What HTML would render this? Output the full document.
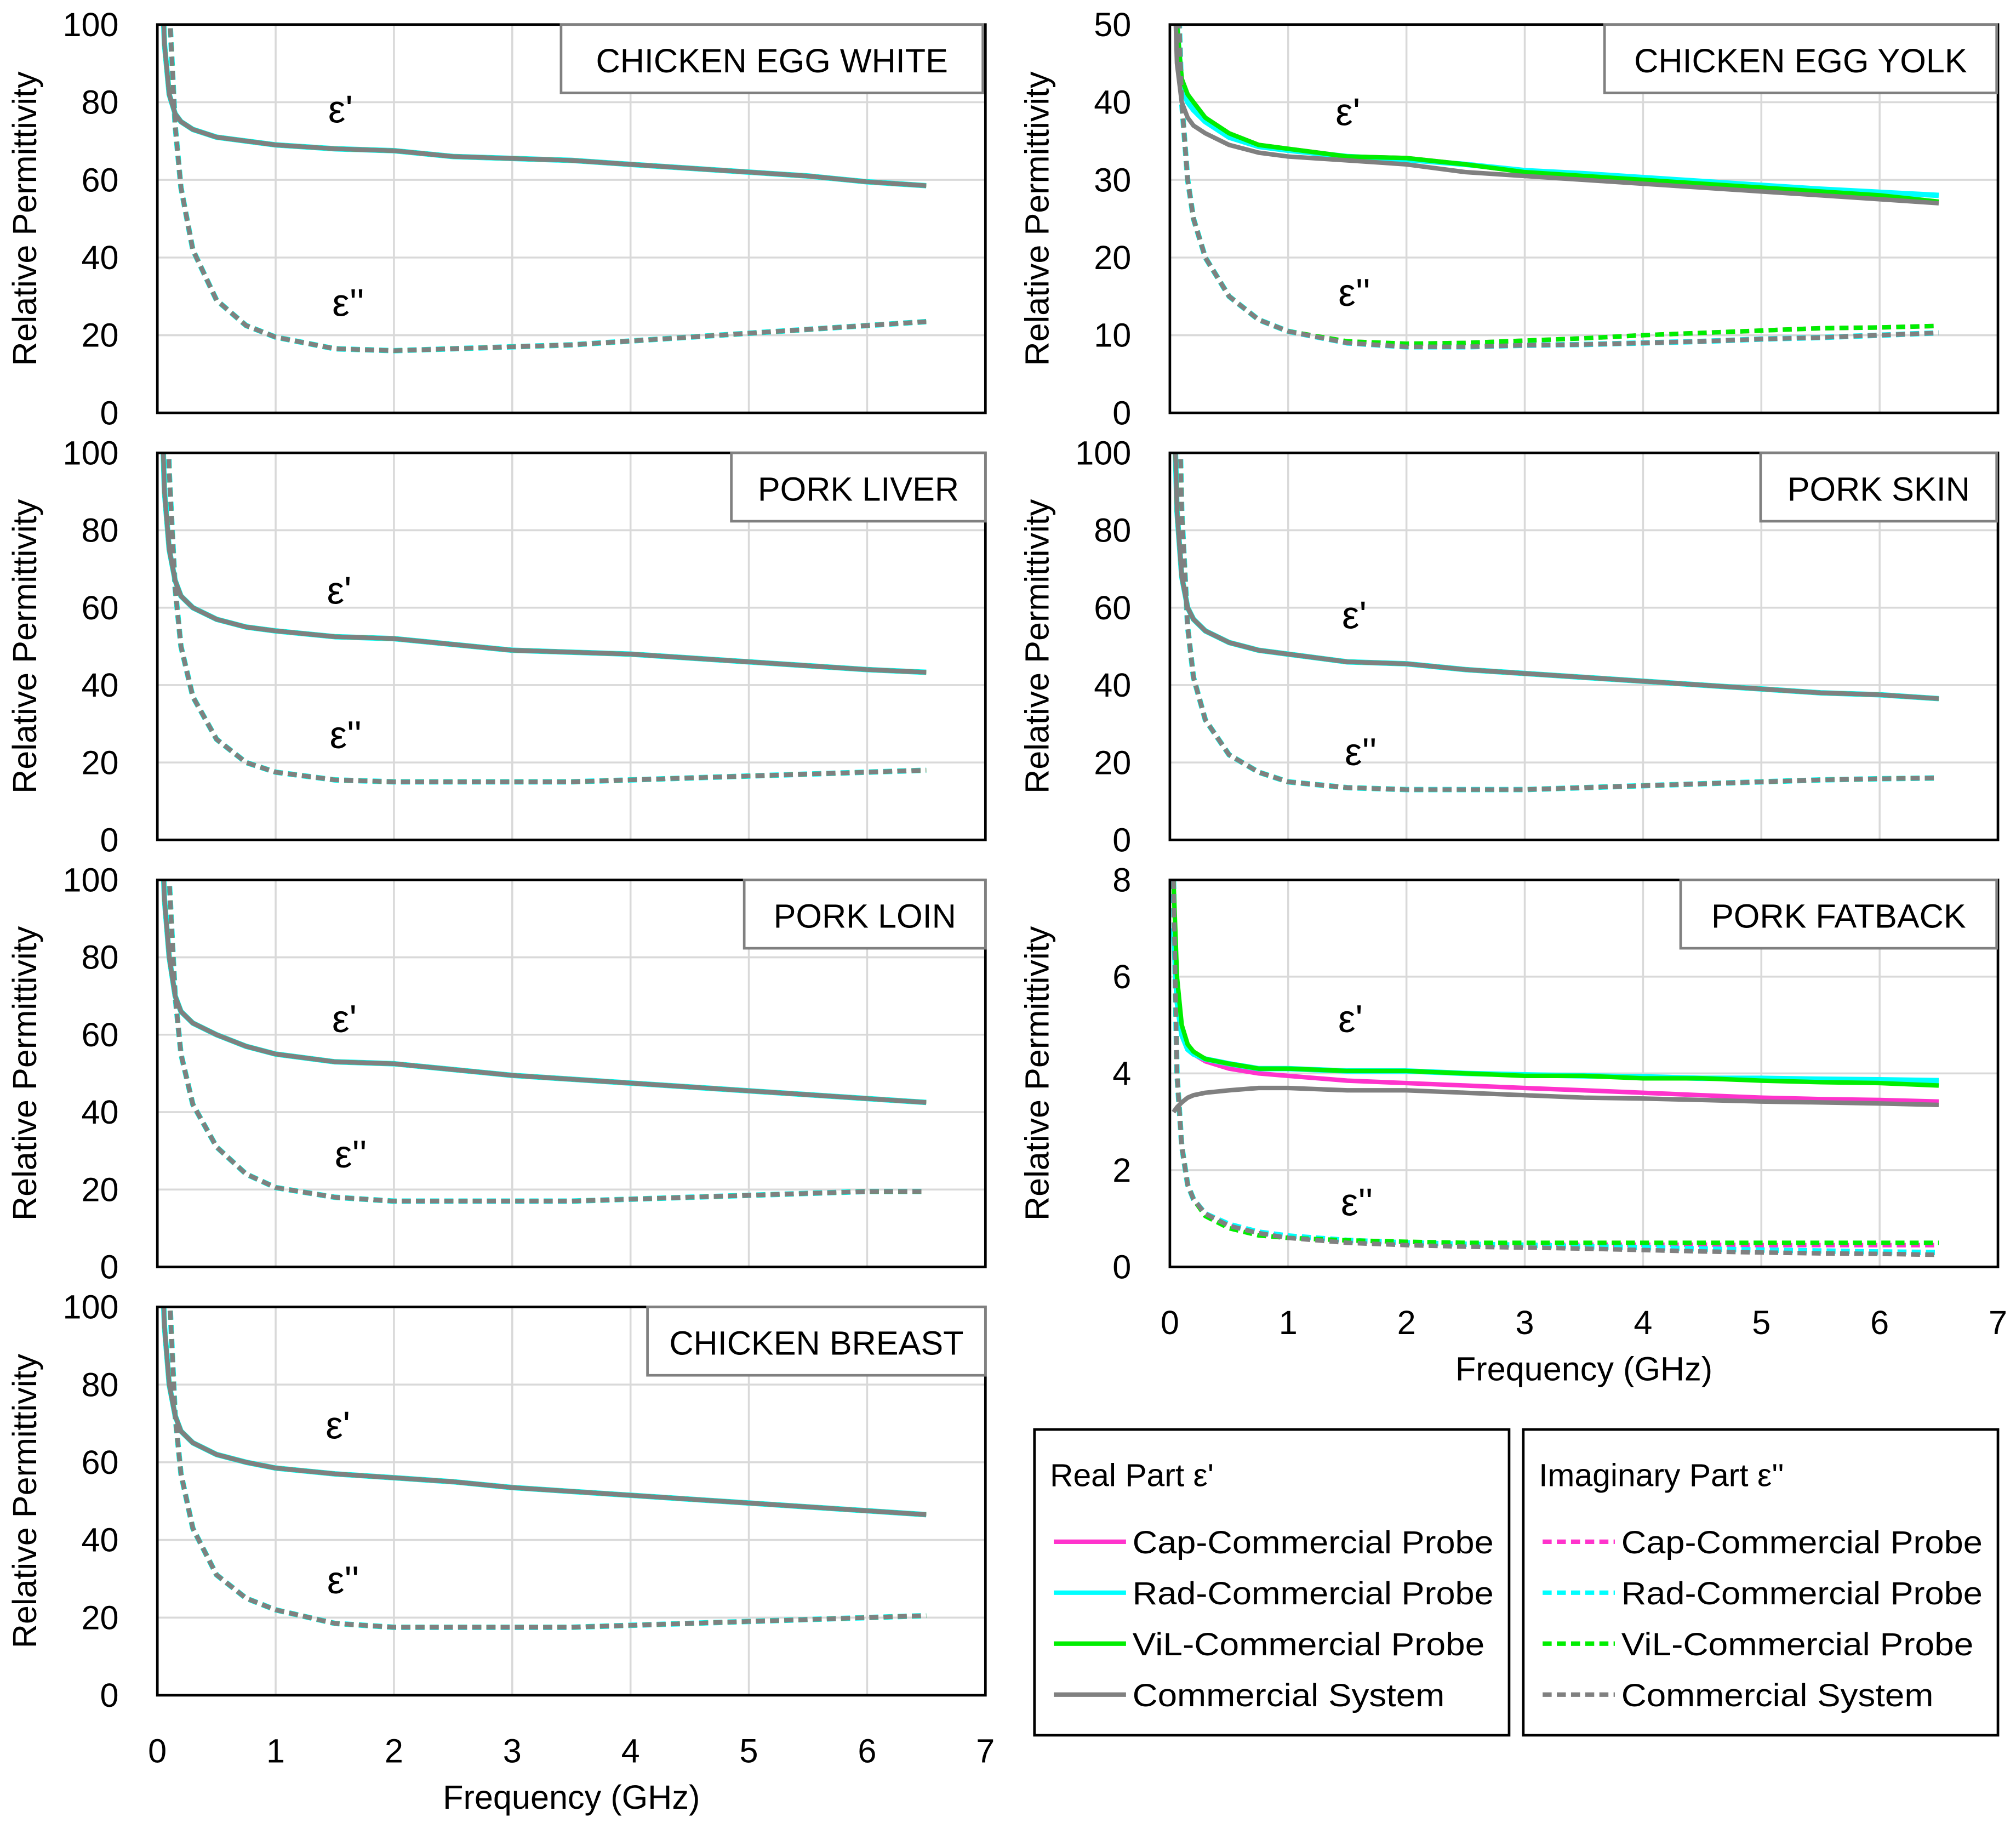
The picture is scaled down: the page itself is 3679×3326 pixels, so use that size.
<!DOCTYPE html>
<html><head><meta charset="utf-8"><style>
html,body{margin:0;padding:0;background:#fff}
svg{display:block}
text{font-family:"Liberation Sans",sans-serif;fill:#000}
</style></head><body>
<svg id="fig" width="3679" height="3326" viewBox="0 0 1563 1413" xmlns="http://www.w3.org/2000/svg"></svg>
<script>
const freqs=[0.03,0.06,0.1,0.15,0.2,0.3,0.5,0.75,1,1.5,2,2.5,3,3.5,4,4.5,5,5.5,6,6.5];
const xTicks=[0,1,2,3,4,5,6,7];
// Chicken egg white
const ewReal=[120,95,82,77,75,73,71,70,69,68,67.5,66,65.5,65,64,63,62,61,59.5,58.5];
const ewImag=[300,160,105,74,58,42,29,22.5,19.5,16.5,16,16.5,17,17.5,18.5,19.5,20.5,21.5,22.5,23.5];
// Chicken egg yolk
const eyRealGray=[60,45,40,38,37,36,34.5,33.5,33,32.5,32,31,30.5,30,29.5,29,28.5,28,27.5,27];
const eyRealGreen=[70,50,43,41,40,38,36,34.5,34,33,32.8,32,31,30.5,30,29.5,29,28.5,28,27.2];
const eyRealCyan=[70,50,42,40,39,37.5,35.5,34.3,33.8,33,32.6,32,31.2,30.8,30.3,29.8,29.3,28.8,28.4,28];
const eyImagGray=[100,60,40,30,25,20,15,12,10.5,9,8.5,8.5,8.7,8.8,9,9.2,9.5,9.7,10,10.3];
const eyImagGreen=[100,60,40,30,25,20,15,12,10.5,9.2,8.9,9,9.3,9.6,10,10.3,10.6,10.9,11,11.2];
// Pork liver
const plReal=[120,90,75,67,63,60,57,55,54,52.5,52,50.5,49,48.5,48,47,46,45,44,43.3];
const plImag=[300,150,95,65,50,37,26,20,17.5,15.5,15,15,15,15,15.5,16,16.5,17,17.5,18];
// Pork skin
const psReal=[120,85,68,60,57,54,51,49,48,46,45.5,44,43,42,41,40,39,38,37.5,36.5];
const psImag=[300,140,85,55,42,31,22,17.5,15,13.5,13,13,13,13.5,14,14.5,15,15.5,15.8,16];
// Pork loin
const loReal=[120,95,80,70,66,63,60,57,55,53,52.5,51,49.5,48.5,47.5,46.5,45.5,44.5,43.5,42.5];
const loImag=[300,160,100,70,55,42,31,24,20.5,18,17,17,17,17,17.5,18,18.5,19,19.5,19.5];
// Pork fatback
const fbRealGray=[3.2,3.3,3.4,3.5,3.55,3.6,3.65,3.7,3.7,3.65,3.65,3.6,3.55,3.5,3.48,3.45,3.42,3.4,3.38,3.35];
const fbRealGreen=[8,6,5,4.6,4.45,4.3,4.2,4.1,4.1,4.05,4.05,4.0,3.95,3.95,3.9,3.9,3.85,3.82,3.8,3.75];
const fbRealCyan=[7,5.5,4.8,4.5,4.4,4.3,4.2,4.1,4.1,4.05,4.05,4.0,3.97,3.95,3.93,3.9,3.9,3.88,3.87,3.85];
const fbRealCap=[7,5.5,4.8,4.5,4.4,4.25,4.1,4.0,3.95,3.85,3.8,3.75,3.7,3.65,3.6,3.55,3.5,3.47,3.45,3.42];
const fbImagGray=[8,4,2.5,1.7,1.4,1.1,0.85,0.7,0.6,0.5,0.45,0.42,0.4,0.38,0.35,0.32,0.3,0.28,0.27,0.25];
const fbImagGreen=[8,4,2.5,1.7,1.4,1.05,0.8,0.65,0.6,0.55,0.52,0.5,0.5,0.5,0.5,0.5,0.5,0.5,0.5,0.5];
const fbImagCyan=[8,4,2.5,1.7,1.4,1.1,0.88,0.72,0.64,0.55,0.5,0.47,0.45,0.42,0.4,0.37,0.35,0.33,0.31,0.3];
const fbImagCap=[8,4,2.5,1.7,1.4,1.08,0.85,0.7,0.62,0.53,0.48,0.47,0.46,0.46,0.46,0.46,0.45,0.45,0.45,0.45];
// Chicken breast
const cbReal=[120,95,80,72,68,65,62,60,58.5,57,56,55,53.5,52.5,51.5,50.5,49.5,48.5,47.5,46.5];
const cbImag=[300,160,105,72,57,43,31,25,22,18.5,17.5,17.5,17.5,17.5,18,18.5,19,19.5,20,20.5];

const panels=[
 {name:'chicken-egg-white',title:'CHICKEN EGG WHITE',x0:122,y0:19,y1:320,max:100,step:20,tb:[435,327],xl:false,
  re:{cap:ewReal,cyan:ewReal,green:ewReal,gray:ewReal},im:{cap:ewImag,cyan:ewImag,green:ewImag,gray:ewImag},l1:[264,95],l2:[270,245]},
 {name:'chicken-egg-yolk',title:'CHICKEN EGG YOLK',x0:907,y0:19,y1:320,max:50,step:10,tb:[1244,304],xl:false,
  re:{cap:eyRealGreen,cyan:eyRealCyan,green:eyRealGreen,gray:eyRealGray},im:{cap:eyImagGreen,cyan:eyImagGray,green:eyImagGreen,gray:eyImagGray},l1:[1045,97],l2:[1050,237]},
 {name:'pork-liver',title:'PORK LIVER',x0:122,y0:351,y1:651,max:100,step:20,tb:[567,197],xl:false,
  re:{cap:plReal,cyan:plReal,green:plReal,gray:plReal},im:{cap:plImag,cyan:plImag,green:plImag,gray:plImag},l1:[263,468],l2:[268,580]},
 {name:'pork-skin',title:'PORK SKIN',x0:907,y0:351,y1:651,max:100,step:20,tb:[1365,183],xl:false,
  re:{cap:psReal,cyan:psReal,green:psReal,gray:psReal},im:{cap:psImag,cyan:psImag,green:psImag,gray:psImag},l1:[1050,487],l2:[1055,593]},
 {name:'pork-loin',title:'PORK LOIN',x0:122,y0:682,y1:982,max:100,step:20,tb:[577,187],xl:false,
  re:{cap:loReal,cyan:loReal,green:loReal,gray:loReal},im:{cap:loImag,cyan:loImag,green:loImag,gray:loImag},l1:[267,800],l2:[272,905]},
 {name:'pork-fatback',title:'PORK FATBACK',x0:907,y0:682,y1:982,max:8,step:2,tb:[1303,245],xl:true,
  re:{cap:fbRealCap,cyan:fbRealCyan,green:fbRealGreen,gray:fbRealGray},im:{cap:fbImagCap,cyan:fbImagCyan,green:fbImagGreen,gray:fbImagGray},l1:[1047,800],l2:[1052,942]},
 {name:'chicken-breast',title:'CHICKEN BREAST',x0:122,y0:1013,y1:1314,max:100,step:20,tb:[502,262],xl:true,
  re:{cap:cbReal,cyan:cbReal,green:cbReal,gray:cbReal},im:{cap:cbImag,cyan:cbImag,green:cbImag,gray:cbImag},l1:[262,1115],l2:[266,1235]}
];
const colors={cap:'#ff33cc',cyan:'#00ffff',green:'#00ee00',gray:'#808080'};
const NS='http://www.w3.org/2000/svg';
const svg=document.getElementById('fig');
function mk(tag,attrs,parent){const e=document.createElementNS(NS,tag);for(const k in attrs)e.setAttribute(k,attrs[k]);(parent||svg).appendChild(e);return e;}
const W=642;
panels.forEach((p,pi)=>{
  const g=mk('g',{});
  
  
  const xs=v=>p.x0+v/7*W, ys=v=>p.y1-v/p.max*(p.y1-p.y0);
  mk('rect',{x:p.x0,y:p.y0,width:W,height:p.y1-p.y0,fill:'#fff'},g);
  xTicks.forEach(t=>{if(t>0&&t<7){const l=mk('line',{x1:xs(t),x2:xs(t),y1:p.y0,y2:p.y1,stroke:'#d9d9d9','stroke-width':1.5},g);}});
  for(let v=0;v<=p.max;v+=p.step){
    if(v>0&&v<p.max){const l=mk('line',{x1:p.x0,x2:p.x0+W,y1:ys(v),y2:ys(v),stroke:'#d9d9d9','stroke-width':1.5},g);}
    const t=mk('text',{x:p.x0-30,y:ys(v)+9,'text-anchor':'end','font-size':26},g);t.textContent=v;
    
  }
  const cid='clip'+pi;
  const cp=mk('clipPath',{id:cid},g);mk('rect',{x:p.x0,y:p.y0,width:W,height:p.y1-p.y0},cp);
  const cg=mk('g',{'clip-path':'url(#'+cid+')'},g);
  ['cap','cyan','green','gray'].forEach(s=>{
    const d1=freqs.map((f,i)=>(i?'L':'M')+xs(f).toFixed(1)+','+ys(p.re[s][i]).toFixed(1)).join('');
    const a=mk('path',{d:d1,fill:'none',stroke:colors[s],'stroke-width':s=='cyan'?4.2:3.5,'stroke-linejoin':'round'},cg);
    
    const d2=freqs.map((f,i)=>(i?'L':'M')+xs(f).toFixed(1)+','+ys(p.im[s][i]).toFixed(1)).join('');
    const b=mk('path',{d:d2,fill:'none',stroke:colors[s],'stroke-width':s=='cyan'?4.2:3.5,'stroke-dasharray':'7,4'},cg);
    
  });
  mk('rect',{x:p.x0,y:p.y0,width:W,height:p.y1-p.y0,fill:'none',stroke:'#000','stroke-width':2},g);
  const yt=mk('text',{x:0,y:0,'font-size':26,'text-anchor':'middle',transform:`translate(${p.x0-94},${(p.y0+p.y1)/2}) rotate(-90)`},g);
  yt.textContent='Relative Permittivity';
  const tb=mk('rect',{x:p.tb[0],y:p.y0,width:p.tb[1],height:53,fill:'#fff',stroke:'#808080','stroke-width':2},g);
  
  const tt=mk('text',{x:p.tb[0]+p.tb[1]/2,y:p.y0+37,'text-anchor':'middle','font-size':26},g);tt.textContent=p.title;
  
  const e1=mk('text',{x:p.l1[0],y:p.l1[1],'text-anchor':'middle','font-size':30},g);e1.textContent="ε'";
  
  const e2=mk('text',{x:p.l2[0],y:p.l2[1],'text-anchor':'middle','font-size':30},g);e2.textContent="ε''";
  
  if(p.xl){
    xTicks.forEach(t=>{const x=mk('text',{x:xs(t),y:p.y1+52,'text-anchor':'middle','font-size':26},g);x.textContent=t;
      });
    const xt=mk('text',{x:p.x0+W/2,y:p.y1+88,'text-anchor':'middle','font-size':26},g);xt.textContent='Frequency (GHz)';
    
  }
});
const legendLabels=['Cap-Commercial Probe','Rad-Commercial Probe','ViL-Commercial Probe','Commercial System'];
const legendKeys=['cap','cyan','green','gray'];
[[802,"Real Part ε'",false,'real-legend'],[1181,"Imaginary Part ε''",true,'imag-legend']].forEach(([x,title,dash,nm])=>{
  const g=mk('g',{});
  
  mk('rect',{x:x,y:1108,width:368,height:237,fill:'#fff',stroke:'#000','stroke-width':2},g);
  const t=mk('text',{x:x+12,y:1152,'font-size':25},g);t.textContent=title;
  
  legendKeys.forEach((k,i)=>{
    const y=1195+i*39.5;
    const l=mk('line',{x1:x+15,x2:x+71,y1:y,y2:y,stroke:colors[k],'stroke-width':3.5},g);
    if(dash)l.setAttribute('stroke-dasharray','7,4');
    
    const tx=mk('text',{x:x+76,y:y+9,'font-size':25,textLength:280,lengthAdjust:'spacingAndGlyphs'},g);tx.textContent=legendLabels[i];
    if(i==3)tx.setAttribute('textLength','242');
    if(i==2)tx.setAttribute('textLength','273');
    
  });
});
</script>
</body></html>
